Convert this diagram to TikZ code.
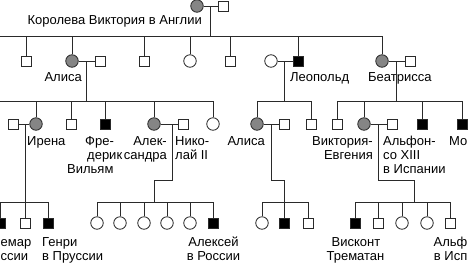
\documentclass[tikz,border=0pt]{standalone}
\usepackage{fontspec}
\setmainfont{Liberation Sans}
\definecolor{lc}{HTML}{2A2A2A}
\definecolor{cg}{HTML}{858585}
\tikzset{
  ln/.style={draw=lc, line width=0.8pt},
  male/.style={draw=lc, line width=0.8pt, rectangle, minimum size=10pt, inner sep=0pt, fill=white},
  female/.style={draw=lc, line width=0.8pt, circle, minimum size=12.5pt, inner sep=0pt, fill=white},
  carrier/.style={fill=cg},
  affected/.style={fill=black},
  lbl/.style={inner sep=0pt, font=\fontsize{13}{14}\selectfont, text=black},
}
\begin{document}
\begin{tikzpicture}[x=1pt,y=-1pt]
\useasboundingbox (0,0) rectangle (468,263);
% ---------- generation I
\node[female,carrier] (V) at (197,6) {};
\node[male] (VH) at (223,6) {};
\draw[ln] (V) -- (VH);
\coordinate (mV) at (210,6);
\coordinate (LV0) at (0,36);
\coordinate (LV1) at (382,36);
\draw[ln] (mV) -- (mV |- LV0);
\draw[ln] (LV0) -- (LV1);
\node[lbl, anchor=base east] (tV) at (202,24) {Королева Виктория в Англии};
% ---------- generation II
\node[male] (c1) at (26,61) {};
\node[female,carrier] (alice) at (72,61) {};
\node[male] (c3) at (144,61) {};
\node[female] (c4) at (190,61) {};
\node[male] (c5) at (230,61) {};
\node[male,affected] (leo) at (298,61) {};
\node[female,carrier] (bea) at (382,61) {};
\foreach \n in {c1,alice,c3,c4,c5,leo,bea} \draw[ln] (\n) -- (\n |- LV0);
% spouses
\node[male] (aliceH) at (100,61) {};
\draw[ln] (alice) -- (aliceH);
\node[female] (leoW) at (271,61) {};
\draw[ln] (leoW) -- (leo);
\node[male] (beaH) at (410,61) {};
\draw[ln] (bea) -- (beaH);
\node[lbl, anchor=base east] (tAlice) at (82,81) {Алиса};
\node[lbl, anchor=base west] (tLeo) at (290,81) {Леопольд};
\node[lbl, anchor=base west] (tBea) at (368,81) {Беатрисса};
% sibling lines of generation III
\coordinate (mA) at (86,61);
\coordinate (LA0) at (0,101);
\coordinate (LA1) at (213,101);
\draw[ln] (mA) -- (mA |- LA0);
\draw[ln] (LA0) -- (LA1);
\coordinate (mL) at (284,61);
\coordinate (LL0) at (257,101);
\coordinate (LL1) at (311,101);
\draw[ln] (mL) -- (mL |- LL0);
\draw[ln] (LL0) -- (LL1);
\coordinate (mB) at (396,61);
\coordinate (LB0) at (337,101);
\coordinate (LB1) at (462,101);
\draw[ln] (mB) -- (mB |- LB0);
\draw[ln] (LB0) -- (LB1);
% ---------- generation III
\node[female,carrier] (irena) at (36,124) {};
\node[male] (a2) at (71,124) {};
\node[male,affected] (fred) at (105,124) {};
\node[female,carrier] (alex) at (154,124) {};
\node[female] (a5) at (213,124) {};
\foreach \n in {irena,a2,fred,alex,a5} \draw[ln] (\n) -- (\n |- LA0);
\node[female,carrier] (alice2) at (257,124) {};
\node[male] (l2) at (311,124) {};
\foreach \n in {alice2,l2} \draw[ln] (\n) -- (\n |- LL0);
\node[male] (b1) at (337,124) {};
\node[female,carrier] (ve) at (364,124) {};
\node[male,affected] (b3) at (422,124) {};
\node[male,affected] (b4) at (462,124) {};
\foreach \n in {b1,ve,b3,b4} \draw[ln] (\n) -- (\n |- LB0);
% spouses
\node[male] (irenaH) at (13,124) {};
\draw[ln] (irenaH) -- (irena);
\node[male] (nic) at (183,124) {};
\draw[ln] (alex) -- (nic);
\node[male] (alice2H) at (284,124) {};
\draw[ln] (alice2) -- (alice2H);
\node[male] (alf) at (392,124) {};
\draw[ln] (ve) -- (alf);
% labels generation III
\node[lbl, anchor=base west] (tIrena) at (27,145) {Ирена};
\node[lbl, anchor=base west] (tFred1) at (85,145) {Фре-};
\node[lbl, anchor=base west] (tFred2) at (87,159) {дерик};
\node[lbl, anchor=base west] (tFred3) at (67,173) {Вильям};
\node[lbl, anchor=base east] (tAlex1) at (167,145) {Алек-};
\node[lbl, anchor=base east] (tAlex2) at (167,159) {сандра};
\node[lbl, anchor=base west] (tNic1) at (175,145) {Нико-};
\node[lbl, anchor=base west] (tNic2) at (175,159) {лай II};
\node[lbl, anchor=base east] (tAlice2) at (265,145) {Алиса};
\node[lbl, anchor=base east] (tVE1) at (373,145) {Виктория-};
\node[lbl, anchor=base east] (tVE2) at (373,159) {Евгения};
\node[lbl, anchor=base west] (tAlf1) at (383,145) {Альфон-};
\node[lbl, anchor=base west] (tAlf2) at (383,159) {со XIII};
\node[lbl, anchor=base west] (tAlf3) at (383,173) {в Испании};
\node[lbl, anchor=base east] (tMo) at (467.5,145) {Мо};
% ---------- descent lines to generation IV
\coordinate (mI) at (25,124);
\coordinate (LI0) at (0.5,202);
\coordinate (LI1) at (48,202);
\draw[ln] (mI) -- (mI |- LI0);
\draw[ln] (LI0) -- (LI1);
\coordinate (mN) at (172,124);
\coordinate (LN0) at (97,202);
\coordinate (LN1) at (213,202);
\coordinate (kN1) at (172,180);
\coordinate (kN2) at (154,180);
\draw[ln] (mN) -- (kN1) -- (kN2) -- (kN2 |- LN0);
\draw[ln] (LN0) -- (LN1);
\coordinate (mP) at (271,124);
\coordinate (LP0) at (262,202);
\coordinate (LP1) at (308,202);
\coordinate (kP1) at (271,180);
\coordinate (kP2) at (284,180);
\draw[ln] (mP) -- (kP1) -- (kP2) -- (kP2 |- LP0);
\draw[ln] (LP0) -- (LP1);
\coordinate (mF) at (378,124);
\coordinate (LF0) at (355,202);
\coordinate (LF1) at (450,202);
\coordinate (kF1) at (378,180);
\coordinate (kF2) at (414,180);
\draw[ln] (mF) -- (kF1) -- (kF2) -- (kF2 |- LF0);
\draw[ln] (LF0) -- (LF1);
% ---------- generation IV
\node[male,affected] (i1) at (0.5,223) {};
\node[male] (i2) at (25,223) {};
\node[male,affected] (i3) at (48,223) {};
\foreach \n in {i1,i2,i3} \draw[ln] (\n) -- (\n |- LI0);
\node[female] (n1) at (97,223) {};
\node[female] (n2) at (120,223) {};
\node[female] (n3) at (144,223) {};
\node[female] (n4) at (167,223) {};
\node[female] (n5) at (190,223) {};
\node[male,affected] (n6) at (213,223) {};
\foreach \n in {n1,n2,n3,n4,n5,n6} \draw[ln] (\n) -- (\n |- LN0);
\node[female] (p1) at (262,223) {};
\node[male,affected] (p2) at (284,223) {};
\node[male] (p3) at (308,223) {};
\foreach \n in {p1,p2,p3} \draw[ln] (\n) -- (\n |- LP0);
\node[male,affected] (f1) at (355,223) {};
\node[male] (f2) at (378,223) {};
\node[female] (f3) at (402,223) {};
\node[female] (f4) at (427,223) {};
\node[male] (f5) at (450,223) {};
\foreach \n in {f1,f2,f3,f4,f5} \draw[ln] (\n) -- (\n |- LF0);
% labels generation IV
\node[lbl, anchor=base west] (tW1) at (0.5,246) {емар};
\node[lbl, anchor=base west] (tW2) at (0.5,260) {ссии};
\node[lbl, anchor=base west] (tH1) at (42,246) {Генри};
\node[lbl, anchor=base west] (tH2) at (42,260) {в Пруссии};
\node[lbl, anchor=base] (tAl1) at (213.5,246) {Алексей};
\node[lbl, anchor=base] (tAl2) at (213.5,260) {в России};
\node[lbl, anchor=base] (tVi1) at (356,246) {Висконт};
\node[lbl, anchor=base] (tVi2) at (355.5,260) {Трематан};
\node[lbl, anchor=base east] (tAf1) at (467.5,246) {Альф};
\node[lbl, anchor=base east] (tAf2) at (467.5,260) {в Исп};
\end{tikzpicture}
\end{document}
